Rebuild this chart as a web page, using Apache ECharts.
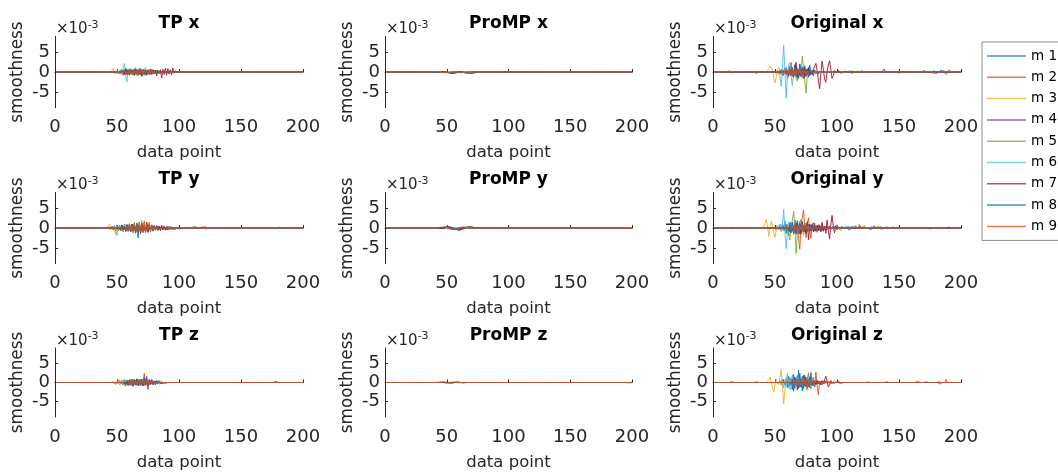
<!DOCTYPE html>
<html><head><meta charset="utf-8">
<script src="https://cdn.jsdelivr.net/npm/echarts@6/dist/echarts.min.js"></script>
<style>html,body{margin:0;padding:0;background:#fff;}#c{width:1058px;height:472px;}</style>
</head><body><div id="c"></div>
<script>
// ---------- labels ----------
const seriesNames = ['m 1','m 2','m 3','m 4','m 5','m 6','m 7','m 8','m 9'];
const panelTitles = ['TP x','ProMP x','Original x','TP y','ProMP y','Original y','TP z','ProMP z','Original z'];
const xTicks = [0, 50, 100, 150, 200];
const yTicks = [-5, 0, 5];
const nPoints = 200;
// values below are in units of 1e-3 (axis multiplier "x10^-3"); each series: start data point + values, zero elsewhere

// ---------- TP x ----------
const tpxStart = [48, 50, 46, 52, 54, 53, 55, 56, 58];
const tpxVals = [
 [0.2,-0.3,0.4,-0.5,0.3,-0.2,0.6,-0.8,0.5,0.9,-0.7,0.4,-0.6,0.8,-0.5,0.3,-0.4,0.7,-0.6,0.5,-0.3,0.8,-0.9,0.6,-0.4,0.3,-0.5,0.6,-0.4,0.2,-0.3,0.5,-0.4,0.3,-0.2,0.4,-0.3,0.2,-0.1,0.2,-0.1,0.1,0],
 [-0.2,0.3,-0.4,0.5,-0.3,0.6,-0.7,0.9,-0.5,0.4,-0.8,0.6,-0.3,0.5,-0.9,0.7,-0.4,0.6,-0.5,0.8,-1.1,0.7,-0.6,0.4,-0.5,0.6,-0.3,0.4,-0.6,0.3,-0.2,0.4,-0.3,0.2,-0.2,0.1,0],
 [0.3,0.9,-0.4,-0.6,0.5,-0.3,0.2,-0.4,0.6,-0.5,0.8,-0.6,0.4,-0.7,0.9,-0.5,0.3,-0.6,0.7,-0.4,0.5,-0.8,0.6,-0.3,0.4,-0.5,0.7,-0.4,0.3,-0.2,0.3,-0.2,0.1,0],
 [0.2,-0.3,0.5,-0.6,0.4,-0.2,0.7,-0.5,0.3,-0.4,0.6,-0.7,0.5,-0.3,0.8,-0.6,0.4,-0.5,0.3,-0.4,0.6,-0.5,0.3,-0.3,0.4,-0.2,0.3,-0.4,0.2,-0.1,0],
 [0.3,-0.4,0.6,-0.5,0.4,-0.7,0.8,-0.5,0.6,-0.4,0.9,-0.6,0.5,-0.8,1.0,-0.6,0.4,-0.5,0.7,-0.8,0.5,-0.4,0.6,-0.3,0.4,-0.5,0.3,-0.2,0.3,-0.1,0],
 [0.4,-0.6,1.0,2.2,-1.2,-2.5,0.8,-0.5,0.9,-0.7,0.5,-0.8,1.2,-0.9,0.6,-0.5,0.9,-0.6,0.7,-1.0,1.3,-0.8,0.5,-0.6,0.8,-0.5,0.4,-0.3,0.5,-0.4,0.3,-0.2,0.2,-0.1,0],
 [0.3,-0.5,0.9,-0.6,0.4,-0.7,0.5,-0.3,0.6,-0.8,0.7,-0.4,0.5,-0.6,0.8,-1.0,0.6,-0.5,0.4,-0.7,0.5,-0.6,0.8,-0.5,0.6,-0.4,0.5,-0.9,0.4,-0.3,0.6,-1.5,0.7,-0.6,1.0,-0.8,0.9,-0.5,0.6,-0.7,1.0,-0.3,0.3,-0.1,0],
 [0.2,-0.4,0.5,-0.3,0.6,-0.5,0.4,-0.6,0.7,-0.4,0.3,-0.5,0.6,-0.7,0.4,-0.3,0.5,-0.6,0.4,-0.2,0.3,-0.4,0.5,-0.3,0.2,-0.2,0.1,0],
 [0.2,-0.3,0.5,-0.4,0.3,-0.6,0.7,-0.5,0.4,-0.8,0.6,-0.3,0.5,-0.7,0.6,-0.4,0.3,-0.5,0.4,-0.6,0.7,-0.4,0.3,-0.3,0.2,-0.2,0.1,0]
];
const tpxBumps = [[[120,0.1]],[],[],[],[],[],[[150,0.1],[172,0.15]],[],[]];

// ---------- ProMP x ----------
const proxStart = [40, 42, 41, 44, 43, 40, 38, 45, 36];
const proxVals = [
 [0,0.02,0.04,0.05,0.04,0.02,0,-0.03,-0.06,-0.08,-0.08,-0.06,-0.03,0,0.03,0.05,0.06,0.05,0.03,0,-0.03,-0.05,-0.06,-0.05,-0.03,0,0.02,0.03,0.02,0],
 [0,0.04,0.08,0.1,0.08,0.04,0,-0.05,-0.1,-0.15,-0.18,-0.15,-0.1,-0.05,0,0.04,0.08,0.1,0.08,0.04,0,-0.06,-0.12,-0.16,-0.18,-0.16,-0.12,-0.06,0,0.04,0.06,0.04,0],
 [0,0.03,0.05,0.06,0.05,0.02,-0.02,-0.06,-0.09,-0.1,-0.09,-0.05,0,0.04,0.07,0.08,0.06,0.02,-0.03,-0.07,-0.09,-0.08,-0.05,-0.01,0.02,0.03,0.02,0],
 [0,0.05,0.09,0.12,0.1,0.05,-0.02,-0.1,-0.17,-0.22,-0.24,-0.2,-0.12,-0.03,0.05,0.1,0.12,0.09,0.03,-0.05,-0.13,-0.2,-0.24,-0.22,-0.16,-0.08,0,0.04,0.05,0.03,0],
 [0,0.02,0.05,0.06,0.05,0.02,-0.02,-0.06,-0.1,-0.12,-0.1,-0.06,-0.01,0.03,0.06,0.07,0.05,0.01,-0.04,-0.08,-0.1,-0.09,-0.05,-0.01,0.02,0.02,0],
 [0,0.03,0.06,0.08,0.07,0.04,0,-0.04,-0.08,-0.1,-0.09,-0.06,-0.02,0.02,0.05,0.06,0.05,0.02,-0.02,-0.06,-0.08,-0.07,-0.04,0,0.02,0.02,0],
 [0,-0.02,-0.05,-0.08,-0.1,-0.08,-0.05,0,0.05,0.08,0.06,0.02,-0.05,-0.12,-0.2,-0.28,-0.33,-0.35,-0.33,-0.28,-0.2,-0.1,0,0.06,0.08,0.06,0,-0.08,-0.16,-0.24,-0.3,-0.34,-0.35,-0.32,-0.26,-0.18,-0.1,-0.03,0.02,0.04,0.03,0.01,0],
 [0,0.02,0.04,0.05,0.03,0,-0.04,-0.07,-0.09,-0.08,-0.05,-0.01,0.03,0.05,0.05,0.03,0,-0.04,-0.07,-0.08,-0.06,-0.03,0,0.02,0.02,0],
 [0,0.02,0.05,0.08,0.1,0.08,0.05,0.02,0,-0.04,-0.09,-0.14,-0.17,-0.18,-0.15,-0.1,-0.04,0.02,0.06,0.08,0.07,0.03,-0.03,-0.1,-0.15,-0.18,-0.17,-0.12,-0.06,0,0.03,0.04,0.02,0]
];
const proxBumps = [[],[],[],[],[],[],[],[],[[199,0.05],[200,0.12]]];

// ---------- Original x ----------
const orgxStart = [52, 53, 44, 58, 60, 50, 60, 62, 60];
const orgxVals = [
 [0.2,-0.3,0.5,-0.6,0.4,-0.8,1.0,-0.7,0.5,-1.2,1.5,-0.9,0.7,-1.4,1.9,-1.0,0.6,-1.6,2.1,-0.8,0.9,-1.7,1.6,-0.6,0.8,-1.3,1.8,-0.5,0.4,-1.0,0.6,-0.4,0.3,-0.5,0.2,-0.1,0],
 [0.3,-0.5,0.8,-1.0,0.6,-0.4,1.2,-1.8,0.9,-0.6,2.5,-1.2,0.5,-0.8,1.4,-1.6,0.7,-0.5,1.1,-1.4,0.8,-0.3,0.6,-0.9,1.3,-0.7,0.4,-0.6,0.5,-0.3,0.2,-0.2,0.1,0],
 [0.2,0.8,1.6,1.9,0.5,-1.5,-2.7,-1.2,0.6,1.2,0.4,-0.6,0.3,-0.2,0.1,0],
 [0.2,-0.4,0.6,-0.8,0.5,-0.9,1.1,-0.6,0.8,-1.2,0.9,-0.5,0.7,-1.0,1.3,-0.7,0.5,-0.8,0.6,-0.4,0.3,-0.5,0.2,-0.1,0],
 [0.2,-0.4,0.6,-0.3,0.8,-0.9,1.2,-1.5,-2.3,0.5,1.4,-0.5,4.0,1.0,-2.0,-5.3,-1.0,1.2,0.6,-0.4,0.3,-0.2,0],
 [0.2,-0.3,0.5,0.5,-1.2,-3.6,0.8,6.8,0.5,-6.6,-1.0,1.8,2.4,-1.0,-3.4,-0.5,1.2,-0.8,0.9,-0.6,0.5,-0.4,0.6,-0.5,0.3,-0.2,0.2,0],
 [0.3,-0.5,0.8,-0.6,1.2,-1.0,0.6,2.5,-1.2,0.4,-0.8,0.6,-0.4,0.9,-1.3,0.7,-0.5,1.1,-0.9,0.4,-0.6,0.8,1.5,2.2,0.3,-2.0,-4.2,-0.5,2.8,0.6,-1.8,-2.6,0.2,1.8,2.9,0.8,-1.6,-0.9,0.4,0.6,-0.2,0.1,0],
 [0.3,-0.6,0.9,-1.1,1.4,-0.8,0.6,-1.5,1.9,-1.2,0.8,-0.6,1.2,-1.0,0.5,-0.4,0.7,-0.5,0.3,-0.2,0.1,0],
 [0.2,-0.4,0.7,-0.9,1.2,-0.6,0.5,-1.1,0.8,-0.5,0.9,-0.7,0.4,-0.3,0.6,-0.5,0.3,-0.4,0.2,-0.1,0]
];
const orgxBumps = [
 [[13,0.3],[20,-0.2],[28,0.2],[110,0.3],[125,-0.2],[140,0.2],[170,0.4],[178,-0.3],[184,0.5]],
 [[35,-0.3],[105,0.2],[150,-0.3],[185,0.3],[188,-0.6]],
 [[31,0.2],[116,0.3],[160,0.2]],
 [[138,0.8],[172,-0.3]],
 [[112,0.4],[186,0.4]],
 [[112,-0.4],[120,0.5],[175,0.4],[191,0.6]],
 [[101,0.5],[103,-0.3],[107,0.2]],
 [[15,-0.2],[130,0.2],[178,0.3]],
 [[25,0.2],[180,-0.4],[190,0.4]]
];

// ---------- TP y ----------
const tpyStart = [44, 46, 43, 50, 48, 46, 52, 54, 56];
const tpyVals = [
 [0.2,-0.3,0.5,-0.4,0.3,-0.6,0.8,-0.5,0.4,-0.7,0.6,-0.9,1.0,-0.6,0.5,-0.8,1.1,-0.7,0.6,-1.0,1.2,-0.8,0.9,-2.5,1.4,-0.9,0.7,-1.1,1.3,-0.8,0.6,-0.9,1.0,-0.6,0.5,-0.7,0.6,-0.4,0.5,-0.6,0.4,-0.3,0.5,-0.4,0.6,-0.3,0.2,-0.4,0.3,-0.2,0.3,-0.3,0.2,-0.2,0.3,-0.1,0.2,-0.2,0.1,0],
 [0.3,-0.4,0.6,-0.5,0.4,-0.7,0.5,-0.6,0.8,-0.5,0.7,-0.9,0.6,-0.8,1.0,-0.7,0.9,-1.2,1.4,-0.8,0.7,-1.0,1.6,-1.1,0.8,-0.9,1.8,-1.2,0.9,-0.7,1.5,-1.0,0.6,-0.8,0.7,-0.5,0.6,-0.4,0.5,-0.6,0.4,-0.3,0.5,-0.4,0.3,-0.2,0.4,-0.3,0.2,-0.2,0.3,-0.2,0.1,0],
 [0.4,1.0,-0.3,-0.8,0.5,-0.6,-1.6,0.4,0.7,-0.5,0.6,-0.8,0.5,-0.4,0.9,-0.7,0.5,-0.6,0.8,-0.9,1.0,-0.6,0.7,-0.8,0.6,-0.5,0.9,-0.7,0.4,-0.5,0.6,-0.4,0.3,-0.5,0.4,-0.3,0.2,-0.2,0.1,0],
 [0.2,-0.4,0.5,-0.6,0.7,-0.5,0.4,-0.8,0.9,-0.6,0.5,-0.7,1.0,-0.8,0.6,-1.3,1.1,-0.7,0.8,-0.9,1.2,-0.6,0.5,-0.8,0.7,-0.5,0.6,-0.4,0.5,-0.3,0.4,-0.5,0.3,-0.2,0.3,-0.2,0.1,0],
 [0.3,-0.5,0.4,-0.6,0.8,-0.4,0.5,-0.7,0.6,-0.5,0.9,-0.8,0.7,-0.6,1.0,-0.9,0.8,-1.1,1.3,-0.8,0.6,-1.0,1.9,-1.2,0.8,-0.6,0.9,-0.7,0.5,-0.6,0.7,-0.5,0.4,-0.3,0.5,-0.4,0.3,-0.3,0.4,-0.2,0.3,-0.2,0.2,-0.1,0],
 [0.2,-0.5,0.6,-1.0,-1.9,0.5,0.8,-0.6,0.5,-0.7,0.9,-0.6,0.4,-0.8,0.7,-0.5,0.6,-1.0,1.1,-0.7,0.5,-0.9,1.2,-0.8,0.6,-0.7,0.8,-0.5,0.4,-0.6,0.5,-0.3,0.4,-0.4,0.3,-0.2,0.2,-0.1,0],
 [0.3,-0.4,0.6,-0.5,0.4,-0.7,0.8,-0.6,0.5,-0.9,1.0,-0.7,0.6,-0.8,1.2,-1.0,0.7,-1.4,1.1,-0.8,0.6,-0.9,1.5,-1.1,0.7,-0.6,0.8,-0.7,0.5,-0.4,0.6,-0.5,0.4,-0.6,0.7,-0.4,0.3,-0.5,0.4,-0.3,0.2,-0.2,0.1,0],
 [0.2,-0.3,0.5,-0.6,0.4,-0.5,0.7,-0.8,0.6,-0.4,0.9,-1.1,0.8,-0.6,0.7,-0.9,1.0,-0.7,0.5,-0.6,0.8,-0.5,0.4,-0.6,0.5,-0.3,0.4,-0.4,0.3,-0.2,0.2,-0.1,0],
 [0.3,-0.4,0.5,-0.6,0.7,-0.5,0.6,-0.9,0.8,-0.6,1.1,-0.8,0.7,-1.0,1.2,-0.7,0.6,-0.8,0.9,-0.5,0.6,-0.4,0.5,-0.6,0.4,-0.3,0.4,-0.3,0.2,-0.2,0.1,0]
];
const tpyBumps = [
 [[108,-0.3],[113,0.4],[118,-0.2],[124,0.3]],
 [[106,-0.3],[111,0.3],[121,0.4],[128,-0.2]],
 [[117,0.3]],[[122,-0.2]],
 [[116,0.3],[126,0.2]],[[114,0.2]],
 [[110,-0.3],[119,0.3],[181,0.2]],[],[[129,0.2]]
];

// ---------- ProMP y ----------
const proyStart = [38, 44, 40, 46, 42, 41, 45, 43, 42];
const proyVals = [
 [0,0.03,0.06,0.1,0.14,0.18,0.2,0.18,0.14,0.08,0.02,-0.04,-0.1,-0.14,-0.16,-0.14,-0.1,-0.04,0.02,0.08,0.12,0.14,0.12,0.08,0.03,0],
 [0,0.05,0.1,0.16,0.22,0.26,0.28,0.26,0.2,0.12,0.02,-0.1,-0.22,-0.32,-0.38,-0.4,-0.36,-0.28,-0.16,-0.04,0.08,0.16,0.22,0.26,0.27,0.24,0.18,0.1,0.03,0],
 [0,0.03,0.07,0.11,0.15,0.17,0.16,0.12,0.06,-0.02,-0.1,-0.16,-0.2,-0.2,-0.16,-0.1,-0.02,0.06,0.12,0.16,0.17,0.14,0.09,0.04,0],
 [0,0.06,0.12,0.2,0.26,0.3,0.3,0.26,0.18,0.06,-0.08,-0.22,-0.34,-0.42,-0.46,-0.44,-0.36,-0.24,-0.1,0.04,0.14,0.22,0.26,0.28,0.26,0.2,0.12,0.05,0],
 [0,0.04,0.08,0.13,0.17,0.2,0.2,0.17,0.11,0.03,-0.06,-0.15,-0.22,-0.26,-0.26,-0.22,-0.14,-0.05,0.04,0.12,0.18,0.2,0.19,0.15,0.09,0.04,0],
 [0,0.03,0.07,0.12,0.16,0.19,0.2,0.18,0.12,0.04,-0.06,-0.15,-0.22,-0.25,-0.24,-0.19,-0.11,-0.02,0.07,0.14,0.18,0.19,0.16,0.11,0.05,0],
 [0,0.05,0.12,0.18,0.24,0.28,0.3,0.28,0.22,0.12,0,-0.14,-0.28,-0.4,-0.48,-0.5,-0.46,-0.36,-0.22,-0.08,0.06,0.18,0.26,0.3,0.32,0.3,0.24,0.16,0.08,0.02,0],
 [0,0.04,0.09,0.14,0.18,0.2,0.19,0.14,0.07,-0.02,-0.12,-0.21,-0.27,-0.29,-0.26,-0.19,-0.09,0.02,0.11,0.18,0.21,0.2,0.15,0.08,0.02,0],
 [0,0.04,0.1,0.16,0.22,0.26,0.27,0.24,0.17,0.07,-0.05,-0.18,-0.3,-0.38,-0.42,-0.4,-0.32,-0.2,-0.06,0.07,0.17,0.24,0.27,0.26,0.21,0.14,0.07,0.02,0]
];
const proyBumps = [[],[[197,-0.1],[198,-0.12],[199,0]],[],[],[],[],[[196,-0.08],[197,-0.14],[198,-0.16],[199,-0.08]],[],[[195,-0.06],[196,-0.12],[197,-0.16],[198,-0.12],[199,0.05],[200,0.3]]];

// ---------- Original y ----------
const orgyStart = [50, 58, 40, 55, 56, 50, 64, 60, 62];
const orgyVals = [
 [0.2,-0.4,0.6,-0.5,0.9,-0.8,1.2,-0.6,1.8,-1.4,0.8,-1.9,1.5,-0.9,0.7,-1.6,2.1,-1.2,0.9,-1.4,1.7,-1.0,0.6,-0.8,1.3,-1.5,0.9,-0.6,1.0,-0.8,0.5,-0.9,1.2,-0.6,0.4,-0.7,0.8,-0.5,0.6,-0.4,0.5,-0.6,0.4,-0.3,0.5,-0.4,0.3,-0.2,0.3,-0.2,0.1,0],
 [0.2,-0.4,0.6,-0.9,0.5,-1.2,1.5,-0.8,0.4,-1.6,1.2,-2.6,-5.3,0.8,2.6,4.6,0.4,-2.4,1.0,2.6,-0.5,-2.6,0.6,1.4,-0.8,0.7,-1.1,0.9,-0.6,0.5,-0.7,0.4,-0.3,0.5,-0.4,0.3,-0.2,0.1,0],
 [0.1,0.5,1.2,2.2,0.3,-2.2,0.2,1.8,0.6,-1.2,-2.4,-0.5,0.8,0.4,-0.3,0.5,-0.4,0.6,-0.5,0.3,-0.2,0.4,-0.3,0.2,-0.1,0],
 [0.2,-0.3,0.5,-0.7,0.9,-0.6,0.4,-1.0,1.3,-0.8,0.6,-1.2,1.4,-0.7,0.5,-1.5,1.1,-0.6,0.8,-1.0,0.7,-0.5,0.9,-0.8,0.6,-0.4,0.5,-0.6,0.4,-0.3,0.4,-0.3,0.2,-0.1,0],
 [0.3,-0.5,0.8,-0.6,1.0,-1.4,-3.0,0.5,2.0,4.2,0.8,-6.4,-1.5,0.9,1.4,2.2,-0.5,-1.8,0.6,1.2,-0.9,0.5,-0.7,0.8,-0.4,0.3,-0.5,0.6,-0.3,0.2,-0.2,0.1,0],
 [0.2,-0.4,0.6,-0.5,1.0,-0.8,0.9,4.7,-1.0,-5.2,-1.2,1.5,0.8,-1.0,1.3,-0.7,0.6,-0.9,0.5,-0.4,0.7,-0.5,0.3,-0.2,0.4,-0.3,0.2,-0.1,0],
 [0.3,-0.5,0.7,-0.9,1.2,-0.6,0.8,-1.5,1.7,-0.8,0.5,-1.2,1.6,-2.9,0.9,-0.7,1.1,-0.9,0.6,-0.8,0.7,-0.5,0.6,-1.0,1.5,-0.8,0.4,-1.3,2.0,-0.6,-2.7,0.8,3.2,0.5,-1.2,0.6,-0.4,0.3,-0.2,0.1,0],
 [0.3,-0.6,0.9,-1.1,1.4,-0.8,0.6,-1.5,1.9,-1.2,0.8,-0.6,1.2,-1.0,0.5,-0.4,0.7,-0.5,0.3,-0.2,0.4,-0.3,0.2,-0.1,0],
 [0.2,-0.4,0.7,-0.9,1.2,-0.6,0.5,-1.1,0.8,-0.5,0.9,-0.7,0.4,-0.3,0.6,-0.5,0.3,-0.4,0.2,-0.1,0]
];
const orgyBumps = [
 [[15,0.2],[104,0.4],[110,-0.5],[115,0.6],[121,-0.4],[128,0.3],[140,0.3],[185,0.3]],
 [[102,0.5],[108,-0.4],[118,0.9],[124,-0.5],[133,0.4],[145,0.3]],
 [[130,0.6],[132,-0.4],[148,0.3]],
 [[105,-0.3],[112,0.4],[137,-0.3],[190,0.3]],
 [[100,0.8],[103,-0.6],[114,0.5],[122,0.7],[126,-0.4]],
 [[107,0.5],[131,0.3],[175,-0.3]],
 [[116,-0.5],[119,0.4],[135,0.3]],
 [[109,0.4],[127,-0.4],[142,0.3]],
 [[113,-0.4],[130,0.5],[136,-0.3],[199,0.2]]
];

// ---------- TP z ----------
const tpzStart = [48, 52, 47, 54, 55, 50, 56, 58, 57];
const tpzVals = [
 [0.2,-0.4,0.3,-0.2,0.5,-0.4,0.3,-0.6,0.7,-0.5,0.4,-0.8,0.6,-0.5,0.9,-0.7,0.5,-0.6,0.8,-0.6,0.7,-0.9,0.6,-0.4,0.5,-0.6,0.8,-0.5,0.4,-0.3,0.5,-0.4,0.3,-0.4,0.2,-0.3,0.4,-0.2,0.3,-0.2,0.2,-0.1,0.1,0],
 [0.3,-0.4,0.6,-0.5,0.4,-0.8,0.7,-0.6,0.5,-0.9,0.8,-0.5,0.6,-0.7,1.0,-0.8,0.6,-0.7,0.9,-0.6,2.4,-0.9,0.7,-0.8,0.6,-0.5,0.8,-0.6,0.4,-0.5,0.3,-0.4,0.5,-0.3,0.2,-0.2,0.3,-0.2,0.1,0],
 [0.3,0.7,-0.5,-0.3,0.4,-0.6,0.5,-0.4,0.7,-0.8,0.5,-0.6,0.4,-0.7,0.8,-0.5,0.6,-0.4,0.7,-0.6,0.5,-0.8,0.6,-0.4,0.5,-0.3,0.4,-0.5,0.3,-0.2,0.3,-0.2,0.1,0],
 [0.2,-0.5,0.6,-0.4,0.5,-0.7,0.6,-0.5,0.8,-1.0,0.7,-0.6,0.5,-0.8,0.9,-0.6,0.7,-0.9,1.1,-0.7,1.6,-1.8,0.8,-0.6,0.7,-0.5,0.4,-0.6,0.5,-0.3,0.4,-0.3,0.2,-0.2,0.1,0],
 [0.3,-0.4,0.5,-0.6,0.4,-0.5,0.7,-0.8,0.6,-0.4,0.5,-0.7,0.8,-0.6,0.5,-0.5,0.9,-0.7,0.6,-0.5,0.4,-0.6,0.5,-0.4,0.3,-0.5,0.4,-0.3,0.2,-0.2,0.1,0],
 [0.2,-0.3,0.5,-0.4,0.3,-0.6,0.8,-1.1,0.7,-0.5,0.6,-0.9,0.7,-0.5,0.8,-0.7,0.5,-0.6,0.9,-0.8,0.6,-0.5,1.2,-0.9,0.6,-0.5,0.7,-0.4,0.5,-0.6,0.4,-0.3,0.5,-0.4,0.3,-0.2,0.4,-0.3,0.2,-0.1,0.1,0],
 [0.3,-0.5,0.4,-0.6,0.7,-0.4,0.5,-0.8,0.6,-0.5,0.9,-0.7,0.5,-0.6,0.8,-0.9,0.6,-0.4,0.5,-0.6,0.4,-0.3,0.5,-0.4,0.3,-0.2,0.2,-0.1,0],
 [0.2,-0.4,0.6,-0.5,0.4,-0.7,0.8,-0.5,0.6,-0.6,0.7,-0.4,0.5,-0.8,1.3,-0.6,0.5,-0.7,0.6,-0.4,0.3,-0.5,0.4,-0.3,0.2,-0.1,0],
 [0.2,-0.3,0.5,-0.6,0.4,-0.5,0.7,-0.6,0.5,-0.7,0.6,-0.4,0.8,-0.5,0.6,-0.7,1.0,-0.6,0.4,-0.5,0.6,-0.4,0.3,-0.3,0.2,-0.2,0.1,0]
];
const tpzBumps = [[],[],[],[],[],[],[[178,0.3]],[],[]];

// ---------- ProMP z ----------
const prozStart = [42, 44, 40, 46, 43, 41, 45, 44, 42];
const prozVals = [
 [0,0.01,0.02,0.03,0.02,0,-0.02,-0.04,-0.05,-0.04,-0.02,0,0.02,0.03,0.03,0.02,0,-0.02,-0.03,-0.02,0],
 [0,0.02,0.04,0.06,0.05,0.02,-0.02,-0.06,-0.08,-0.07,-0.04,0,0.04,0.06,0.06,0.03,-0.01,-0.04,-0.05,-0.03,0],
 [0,0.01,0.03,0.04,0.03,0.01,-0.02,-0.04,-0.04,-0.02,0,0.02,0.03,0.02,0],
 [0,0.02,0.05,0.07,0.06,0.02,-0.03,-0.08,-0.1,-0.09,-0.05,0,0.05,0.08,0.07,0.03,-0.02,-0.05,-0.05,-0.02,0],
 [0,0.01,0.03,0.04,0.03,0,-0.03,-0.05,-0.05,-0.03,0,0.03,0.04,0.03,0],
 [0,0.01,0.02,0.03,0.02,0,-0.02,-0.04,-0.04,-0.02,0,0.02,0.03,0.01,0],
 [0,0.03,0.06,0.09,0.08,0.04,-0.03,-0.1,-0.14,-0.13,-0.08,-0.01,0.06,0.1,0.1,0.06,0,-0.05,-0.07,-0.05,-0.02,0],
 [0,0.02,0.03,0.04,0.02,-0.01,-0.04,-0.06,-0.05,-0.02,0.01,0.04,0.05,0.03,0],
 [0,0.02,0.05,0.07,0.06,0.03,-0.02,-0.07,-0.1,-0.09,-0.05,0,0.05,0.07,0.06,0.02,-0.02,-0.04,-0.03,0]
];
const prozBumps = [[],[],[],[],[],[],[[197,-0.05],[198,-0.08],[199,-0.04]],[],[[197,-0.04],[198,-0.06],[199,0.02],[200,0.15]]];

// ---------- Original z ----------
const orgzStart = [55, 70, 44, 58, 60, 52, 80, 62, 64];
const orgzVals = [
 [0.3,-0.5,0.8,-0.6,1.0,-1.3,1.6,-0.9,0.7,-1.8,2.1,-1.5,1.0,-2.0,3.2,-1.2,0.8,-2.2,1.9,-1.0,1.4,-1.6,0.9,-1.3,2.6,-0.8,0.5,-1.1,0.7,-0.5,0.4,-0.6,0.3,-0.2,0.3,-0.2,0.1,0],
 [0.3,-0.6,0.9,-0.8,1.5,-1.2,0.8,2.5,-0.9,-1.6,0.7,1.4,-1.1,2.7,-1.0,-3.2,0.4,0.9,-0.6,0.3,-0.4,0.5,-0.3,0.4,0.8,-0.3,0.2,-0.1,0],
 [0.2,0.6,1.4,0.3,-1.6,-2.5,-0.4,0.8,0.5,-0.6,1.4,3.4,-0.8,-5.5,-2.0,1.2,2.0,-0.6,-1.8,0.9,1.4,-0.7,0.6,-0.9,0.5,-0.3,0.4,-0.2,0.1,0],
 [0.2,-0.4,0.7,-1.0,1.2,-0.8,1.5,-2.3,1.4,-0.9,1.8,-1.6,0.9,-1.2,1.6,-1.0,0.7,-0.8,0.5,-0.6,0.4,-0.3,0.2,-0.1,0],
 [0.2,-0.4,0.6,-0.5,0.8,-0.7,0.5,-0.9,1.1,-0.6,0.8,-1.0,1.2,-0.8,0.6,-0.9,-2.0,0.7,0.5,-0.6,0.4,-0.3,0.2,-0.1,0],
 [0.2,-0.3,0.5,-0.8,1.0,-1.4,0.6,-1.0,2.3,-1.5,0.9,-1.8,2.0,-1.2,0.7,-1.0,1.5,-0.8,0.6,-0.7,0.9,-0.5,0.4,-0.6,0.3,-0.2,0.2,-0.1,0],
 [0.2,-0.3,0.4,-0.5,0.6,-0.4,0.3,-0.6,0.5,-0.3,-0.6,1.6,0.4,-1.2,-0.6,0.5,0.3,-0.2,0.1,0],
 [0.3,-0.5,0.8,-1.0,1.3,-0.7,0.9,-1.4,2.4,-1.1,0.8,-1.6,1.9,-0.9,0.6,-1.2,1.5,-0.7,0.5,-0.8,0.4,-0.3,0.2,-0.1,0],
 [0.2,-0.4,0.6,-0.8,1.0,-0.7,0.5,-0.9,1.2,-0.8,0.6,-1.1,0.9,-0.6,0.4,-0.5,0.6,-0.4,0.3,-0.2,0.1,0]
];
const orgzBumps = [
 [[15,0.2],[22,-0.2],[110,0.2],[150,0.2],[176,0.4]],
 [[35,0.2],[103,-0.3],[120,0.2],[183,-0.4],[188,0.8],[190,-0.3]],
 [[116,0.2]],[[134,-0.2]],[[125,0.2]],
 [[98,0.5],[131,0.2],[182,0.3]],[[100,0.3]],
 [[101,0.3],[165,0.3],[178,-0.3]],
 [[105,-0.2],[140,0.2],[172,0.2]]
];

// ---------- build ----------
const panels = [
 [tpxStart, tpxVals, tpxBumps], [proxStart, proxVals, proxBumps], [orgxStart, orgxVals, orgxBumps],
 [tpyStart, tpyVals, tpyBumps], [proyStart, proyVals, proyBumps], [orgyStart, orgyVals, orgyBumps],
 [tpzStart, tpzVals, tpzBumps], [prozStart, prozVals, prozBumps], [orgzStart, orgzVals, orgzBumps]
];
const colors = ['#0072BD','#D95319','#EDB120','#7E2F8E','#77AC30','#4DBEEE','#A2142F','#0072BD','#D95319'];
const FONT = '"DejaVu Sans", Verdana, sans-serif';
const colLeft = [55, 385, 713], colW = [248, 247, 248];
const rowTop = [36.5, 192.5, 348], rowH = 71.2;

function buildSeries(start, vals, bumps) {
  const ys = new Array(nPoints).fill(0);
  vals.forEach((v, i) => { ys[start - 1 + i] = v; });
  (bumps || []).forEach(([i, v]) => { ys[i - 1] = v; });
  return ys.map((v, i) => [i + 1, v]);
}

const grid = [], xAxis = [], yAxis = [], series = [], title = [];
panels.forEach((p, k) => {
  const r = Math.floor(k / 3), c = k % 3;
  grid.push({left: colLeft[c], top: rowTop[r], width: colW[c], height: rowH, containLabel: false});
  const axisLine = {show: true, lineStyle: {color: '#262626', width: 1}};
  xAxis.push({
    type: 'value', gridIndex: k, min: 0, max: 200, interval: 50,
    name: 'data point', nameLocation: 'middle', nameGap: 37,
    nameTextStyle: {fontFamily: FONT, fontSize: 16.5, color: '#262626'},
    axisLine, axisTick: {inside: true, length: 3, lineStyle: {color: '#262626'}},
    axisLabel: {fontFamily: FONT, fontSize: 18, color: '#262626', margin: 11},
    splitLine: {show: false}
  });
  yAxis.push({
    type: 'value', gridIndex: k, min: -9, max: 9,
    name: 'smoothness', nameLocation: 'middle', nameGap: 29, nameRotate: 90,
    nameTextStyle: {fontFamily: FONT, fontSize: 16.8, color: '#262626'},
    axisLine, axisTick: {inside: true, length: 3, lineStyle: {color: '#262626'}, customValues: yTicks},
    axisLabel: {fontFamily: FONT, fontSize: 18, color: '#262626', margin: 5, customValues: yTicks},
    splitLine: {show: false}
  });
  title.push({
    text: panelTitles[k], left: colLeft[c] + colW[c] / 2, top: rowTop[r] - 21, textAlign: 'center', padding: 0,
    textStyle: {fontFamily: FONT, fontSize: 17, fontWeight: 'bold', color: '#000'}
  });
  title.push({
    text: '{a|×10}{b|-3}', left: colLeft[c] + 1, top: rowTop[r] - 17, padding: 0,
    textStyle: {fontWeight: 'normal', rich: {
      a: {fontFamily: FONT, fontSize: 15, fontWeight: 'normal', color: '#262626', lineHeight: 15, padding: [5, 0, 0, 0]},
      b: {fontFamily: FONT, fontSize: 11, fontWeight: 'normal', color: '#262626', lineHeight: 11, verticalAlign: 'top'}
    }}
  });
  const [starts, vals, bumps] = p;
  for (let s = 0; s < 9; s++) {
    series.push({
      type: 'line', name: seriesNames[s], xAxisIndex: k, yAxisIndex: k,
      data: buildSeries(starts[s], vals[s], bumps[s]),
      showSymbol: false, symbol: 'none', animation: false,
      color: colors[s], lineStyle: {width: 0.9, color: colors[s]}
    });
  }
});

const chart = echarts.init(document.getElementById('c'), null, {renderer: 'canvas'});
chart.setOption({
  animation: false,
  backgroundColor: '#fff',
  title, grid, xAxis, yAxis, series,
  legend: {
    data: seriesNames, orient: 'vertical', left: 982, top: 42,
    padding: [6, 5, 6, 5], itemGap: 5.3, itemWidth: 39, itemHeight: 1.5, icon: 'rect',
    itemStyle: {opacity: 0.75}, itemTextGap: 4,
    borderColor: '#8c8c8c', borderWidth: 1, backgroundColor: '#fff',
    textStyle: {fontFamily: FONT, fontSize: 13.5, color: '#000', lineHeight: 16},
    selectedMode: false
  },
  tooltip: {show: false}
});
</script></body></html>
